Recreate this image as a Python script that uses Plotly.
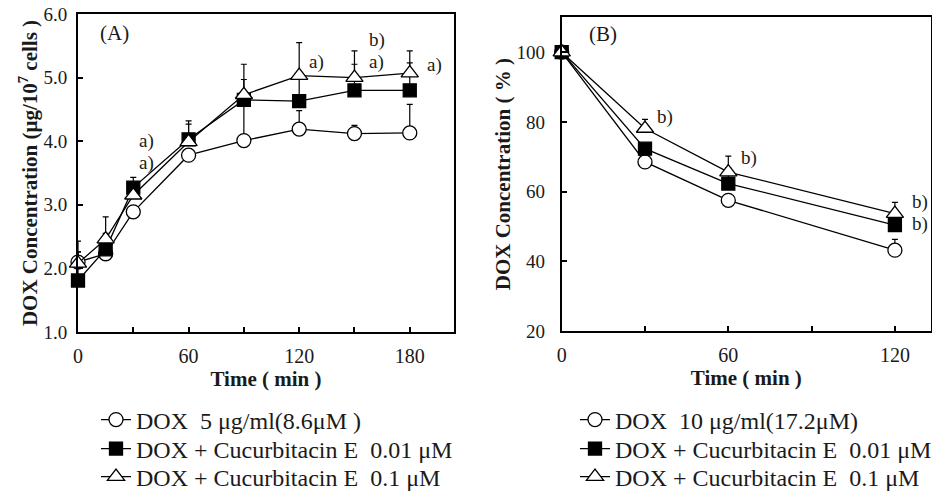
import plotly.graph_objects as go

# ---------------- data ----------------
time_a = [0, 15, 30, 60, 90, 120, 150, 180]
dox_a = [2.10, 2.23, 2.89, 3.78, 4.01, 4.19, 4.12, 4.13]
dox_a_err = [0.16, 0.05, 0.05, 0.10, 0.62, 0.29, 0.13, 0.45]
cuc001_a = [1.81, 2.30, 3.27, 4.03, 4.65, 4.63, 4.80, 4.80]
cuc001_a_err = [0.45, 0.25, 0.16, 0.24, 0.32, 0.37, 0.41, 0.43]
cuc01_a = [2.08, 2.46, 3.15, 3.99, 4.73, 5.03, 5.00, 5.07]
cuc01_a_err = [0.35, 0.35, 0.10, 0.33, 0.48, 0.52, 0.42, 0.35]

time_b = [0, 30, 60, 120]
dox_b = [100, 68.5, 57.5, 43.2]
dox_b_err = [0, 1.0, 1.0, 3.1]
cuc001_b = [100, 72.3, 62.3, 50.4]
cuc001_b_err = [0, 1.5, 4.5, 2.0]
cuc01_b = [100, 78.1, 65.6, 53.7]
cuc01_b_err = [0, 2.6, 4.6, 3.2]

names_a = ["DOX\u00a0\u00a05\u00a0μg/ml(8.6μM\u00a0)",
           "DOX\u00a0+\u00a0Cucurbitacin\u00a0E\u00a0\u00a00.01\u00a0μM",
           "DOX\u00a0+\u00a0Cucurbitacin\u00a0E\u00a0\u00a00.1\u00a0μM"]
names_b = ["DOX\u00a0\u00a010\u00a0μg/ml(17.2μM)",
           "DOX\u00a0+\u00a0Cucurbitacin\u00a0E\u00a0\u00a00.01\u00a0μM",
           "DOX\u00a0+\u00a0Cucurbitacin\u00a0E\u00a0\u00a00.1\u00a0μM"]

notes_a = [("a)", 32, 4.0), ("a)", 32, 3.66), ("a)", 124.3, 5.25),
           ("b)", 157, 5.59), ("a)", 157, 5.24), ("a)", 188, 5.20)]
notes_b = [("b)", 33.6, 81.5), ("b)", 63.9, 69.5), ("b)", 125.4, 57.0), ("b)", 125.4, 50.6)]

FONT = "Liberation Serif, Times New Roman, serif"
INK = "#1a1a1a"

styles = [
    dict(symbol="circle", color="white", size=14),
    dict(symbol="square", color="black", size=13),
    dict(symbol="triangle-up", color="white", size=15),
]

fig = go.Figure()

def add_series(x, ys, errs, names, xa, ya, legends):
    for y, e, nm, st, lg in zip(ys, errs, names, styles, legends):
        fig.add_trace(go.Scatter(
            x=x, y=y, name=nm, mode="lines+markers",
            xaxis=xa, yaxis=ya, legend=lg,
            line=dict(color="black", width=1.3),
            marker=dict(symbol=st["symbol"], size=st["size"], color=st["color"],
                        line=dict(color="black", width=1.3)),
            error_y=dict(type="data", symmetric=False, array=e,
                         arrayminus=[0] * len(e), color="black",
                         thickness=1.2, width=3),
            cliponaxis=False,
        ))

add_series(time_a, [dox_a, cuc001_a, cuc01_a], [dox_a_err, cuc001_a_err, cuc01_a_err],
           names_a, "x", "y", ["legend", "legend2", "legend3"])
add_series(time_b, [dox_b, cuc001_b, cuc01_b], [dox_b_err, cuc001_b_err, cuc01_b_err],
           names_b, "x2", "y2", ["legend4", "legend5", "legend6"])

ann = []
for t, x, y in notes_a:
    ann.append(dict(text=t, x=x, y=y, xref="x", yref="y", xanchor="left",
                    yanchor="middle", showarrow=False, font=dict(size=19, color=INK)))
for t, x, y in notes_b:
    ann.append(dict(text=t, x=x, y=y, xref="x2", yref="y2", xanchor="left",
                    yanchor="middle", showarrow=False, font=dict(size=19, color=INK)))
ann.append(dict(text="(A)", x=10.9, y=5.70, xref="x", yref="y", xanchor="left",
                yanchor="middle", showarrow=False, font=dict(size=21, color=INK)))
ann.append(dict(text="(B)", x=9.2, y=105.3, xref="x2", yref="y2", xanchor="left",
                yanchor="middle", showarrow=False, font=dict(size=21, color=INK)))

axis_common = dict(showline=True, linecolor="black", linewidth=2, mirror=True,
                   ticks="inside", ticklen=5, tickwidth=1.5, tickcolor="black",
                   showgrid=False, zeroline=False)
minor_x = dict(ticks="inside", dtick=30, ticklen=5, tickwidth=1.5,
               tickcolor="black", showgrid=False)

legend_common = dict(font=dict(size=24, family=FONT, color=INK),
                     bgcolor="rgba(0,0,0,0)", xanchor="left", yanchor="middle",
                     itemclick=False, borderwidth=0)

row_y = [420, 449, 477]
legends = {}
for i, yy in enumerate(row_y):
    key = "legend" if i == 0 else f"legend{i + 1}"
    legends[key] = dict(x=96 / 932, y=1 - yy / 493, **legend_common)
    legends[f"legend{i + 4}"] = dict(x=575 / 932, y=1 - yy / 493, **legend_common)

fig.update_layout(
    width=932, height=493,
    margin=dict(l=0, r=0, t=0, b=0, autoexpand=False),
    paper_bgcolor="white", plot_bgcolor="white",
    font=dict(family=FONT, color=INK),
    showlegend=True,
    xaxis=dict(domain=[78 / 932, 454 / 932], range=[0, 204], anchor="y",
               tick0=0, dtick=60, minor=minor_x,
               ticklabelstandoff=5, tickfont=dict(size=20, color=INK),
               title=dict(text="<b>Time ( min )</b>", font=dict(size=21), standoff=4),
               **axis_common),
    yaxis=dict(domain=[1 - 332 / 493, 1 - 14 / 493], range=[1, 6], anchor="x",
               dtick=1, tickformat=".1f", ticklabelstandoff=5,
               tickfont=dict(size=19, color=INK),
               title=dict(text="<b>DOX Concentration (μg/10<sup>7</sup> cells )</b>",
                          font=dict(size=21), standoff=0),
               **axis_common),
    xaxis2=dict(domain=[561.7 / 932, 931 / 932], range=[0, 133], anchor="y2",
                tick0=0, dtick=60, minor=minor_x,
                ticklabelstandoff=5, tickfont=dict(size=20, color=INK),
                title=dict(text="<b>Time ( min )</b>", font=dict(size=21), standoff=4),
                **axis_common),
    yaxis2=dict(domain=[1 - 331 / 493, 1 - 17.3 / 493], range=[20, 110], anchor="x2",
                tickvals=[20, 40, 60, 80, 100], ticklabelstandoff=11,
                tickfont=dict(size=19, color=INK),
                title=dict(text="<b>DOX Concentration ( % )</b>",
                           font=dict(size=21), standoff=0),
                **axis_common),
    annotations=ann,
    **legends,
)

fig.write_html(
    "out.html",
    config={"displayModeBar": False},
    post_script="document.documentElement.style.margin='0';"
                "document.body.style.margin='0';"
                "document.body.style.overflow='hidden';",
)
